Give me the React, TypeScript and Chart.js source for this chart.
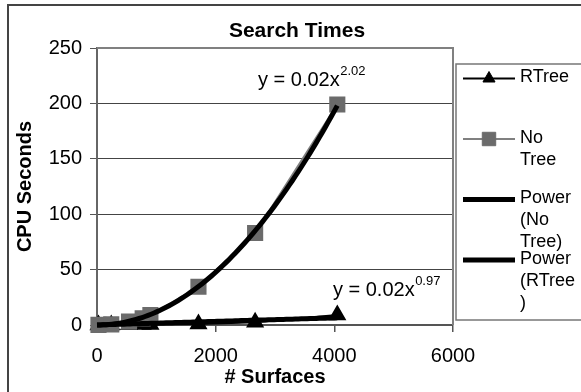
import React, { useEffect, useRef } from "react";
import { Chart, registerables } from "chart.js";
import { drawPoint } from "chart.js/helpers";

Chart.register(...registerables);

// ---- data ----
const surfaces = [25, 240, 540, 770, 900, 1710, 2665, 4050];
const rtreeSeconds = [0.05, 0.1, 0.3, 0.4, 0.5, 1, 2.5, 9];
const noTreeSeconds = [0.1, 0.5, 3, 6, 9, 34.5, 83, 199];

const seriesNames = ["RTree", "No Tree", "Power (No Tree)", "Power (RTree)"];
const legendLines = [["RTree"], ["No", "Tree"], ["Power", "(No", "Tree)"], ["Power", "(RTree", ")"]];

const noTreeExponent = 2.02;
const rtreeExponent = 0.97;
const equationCoef = "0.02";
const equationExponents = ["2.02", "0.97"];
const equationAnchorX = [2713, 3976];
const equationAnchorY = [221, 31];

const xMin = 0;
const xMax = 6000;
const xStep = 2000;
const yMin = 0;
const yMax = 250;
const yStep = 50;

const chartTitle = "Search Times";
const xTitle = "# Surfaces";
const yTitle = "CPU Seconds";

const FONT = '"Liberation Sans", Arial, Helvetica, sans-serif';

// least-squares coefficient for a power trend with the shown exponent
function fitPower(xs: number[], ys: number[], b: number) {
  let num = 0;
  let den = 0;
  for (let i = 0; i < xs.length; i++) {
    const p = Math.pow(xs[i], b);
    num += ys[i] * p;
    den += p * p;
  }
  const a = num / den;
  const last = xs[xs.length - 1];
  const pts: { x: number; y: number }[] = [];
  const n = 80;
  for (let i = 0; i <= n; i++) {
    const x = (last * i) / n;
    pts.push({ x, y: a * Math.pow(x, b) });
  }
  return pts;
}

const decorPlugin = {
  id: "decor",
  beforeDraw(chart: any) {
    const ctx = chart.ctx;
    ctx.save();
    ctx.fillStyle = "#ffffff";
    ctx.fillRect(0, 0, chart.width, chart.height);
    ctx.strokeStyle = "#444444";
    ctx.lineWidth = 2;
    ctx.strokeRect(8, 5, chart.width + 20, chart.height + 20);
    ctx.restore();
  },
  afterDraw(chart: any) {
    const ctx = chart.ctx;
    const area = chart.chartArea;
    const xs = chart.scales.x;
    const ys = chart.scales.y;
    ctx.save();

    // plot area top / right border
    ctx.strokeStyle = "#808080";
    ctx.lineWidth = 2;
    ctx.beginPath();
    ctx.moveTo(area.left, area.top);
    ctx.lineTo(area.right, area.top);
    ctx.lineTo(area.right, area.bottom);
    ctx.stroke();

    // title
    ctx.fillStyle = "#000";
    ctx.font = `bold 21px ${FONT}`;
    ctx.textAlign = "center";
    ctx.textBaseline = "middle";
    ctx.fillText(chartTitle, 297, 31);

    // equations
    for (let i = 0; i < equationAnchorX.length; i++) {
      const px = xs.getPixelForValue(equationAnchorX[i]);
      const py = ys.getPixelForValue(equationAnchorY[i]);
      ctx.textAlign = "left";
      ctx.textBaseline = "middle";
      ctx.font = `20px ${FONT}`;
      const main = `y = ${equationCoef}x`;
      ctx.fillText(main, px, py);
      const w = ctx.measureText(main).width;
      ctx.font = `13px ${FONT}`;
      ctx.fillText(equationExponents[i], px + w + 0.5, py - 9);
    }

    // legend
    const lx = 456;
    const ly = 64;
    ctx.strokeStyle = "#777777";
    ctx.lineWidth = 1.5;
    ctx.strokeRect(lx, ly, 200, 320 - ly);

    const order = [0, 1, 2, 3];
    order.forEach((dsIndex, i) => {
      const ds = chart.data.datasets[dsIndex];
      const y = 78.5 + 60.5 * i;
      ctx.strokeStyle = ds.borderColor;
      ctx.lineWidth = ds.borderWidth;
      ctx.beginPath();
      ctx.moveTo(463, y);
      ctx.lineTo(515, y);
      ctx.stroke();
      if (ds.pointRadius > 0) {
        ctx.fillStyle = ds.pointBackgroundColor;
        ctx.strokeStyle = ds.pointBorderColor;
        ctx.lineWidth = 1;
        drawPoint(ctx, { pointStyle: ds.pointStyle, radius: ds.legendRadius, borderWidth: 1, rotation: 0 }, 489, y);
      }
      ctx.fillStyle = "#000";
      ctx.font = `18px ${FONT}`;
      ctx.textAlign = "left";
      ctx.textBaseline = "middle";
      legendLines[dsIndex].forEach((t, j) => {
        ctx.fillText(t, 520, y - 1 + j * 22);
      });
    });

    ctx.restore();
  },
};

export default function App() {
  const ref = useRef<HTMLCanvasElement | null>(null);

  useEffect(() => {
    if (!ref.current) return;
    const rtreePts = surfaces.map((x, i) => ({ x, y: rtreeSeconds[i] }));
    const noTreePts = surfaces.map((x, i) => ({ x, y: noTreeSeconds[i] }));
    const noTreeTrend = fitPower(surfaces, noTreeSeconds, noTreeExponent);
    const rtreeTrend = fitPower(surfaces, rtreeSeconds, rtreeExponent);

    const chart = new Chart(ref.current, {
      type: "scatter",
      data: {
        datasets: [
          {
            label: seriesNames[0],
            data: rtreePts,
            showLine: true,
            clip: false,
            borderColor: "#000000",
            borderWidth: 2,
            pointStyle: "triangle",
            pointRadius: 8.5,
            legendRadius: 7,
            pointBackgroundColor: "#000000",
            pointBorderColor: "#000000",
            order: 3,
          } as any,
          {
            label: seriesNames[1],
            data: noTreePts,
            showLine: true,
            clip: false,
            borderColor: "#808080",
            borderWidth: 2,
            pointStyle: "rect",
            pointRadius: 10,
            legendRadius: 9.5,
            pointBackgroundColor: "#6b6b6b",
            pointBorderColor: "#6b6b6b",
            order: 2,
          } as any,
          {
            label: seriesNames[2],
            data: noTreeTrend,
            showLine: true,
            clip: false,
            borderColor: "#000000",
            borderWidth: 5,
            pointRadius: 0,
            order: 0,
          } as any,
          {
            label: seriesNames[3],
            data: rtreeTrend,
            showLine: true,
            clip: false,
            borderColor: "#000000",
            borderWidth: 5,
            pointRadius: 0,
            order: 1,
          } as any,
        ],
      },
      options: {
        animation: false,
        responsive: false,
        devicePixelRatio: 1,
        layout: { padding: { left: 0, top: 48, right: 128, bottom: 0 } },
        plugins: {
          legend: { display: false },
          title: { display: false },
          tooltip: { enabled: false },
        },
        scales: {
          x: {
            type: "linear",
            min: xMin,
            max: xMax,
            afterFit: (s: any) => {
              s.height = 67;
            },
            ticks: {
              stepSize: xStep,
              color: "#000",
              font: { family: FONT, size: 20 },
              padding: 12.5,
              maxRotation: 0,
              callback: (v: any) => String(v),
            },
            grid: {
              drawOnChartArea: false,
              drawTicks: true,
              tickLength: 7,
              tickColor: "#555555",
              lineWidth: 1.5,
            },
            border: { color: "#555555", width: 2 },
            title: {
              display: true,
              text: xTitle,
              color: "#000",
              font: { family: FONT, size: 20, weight: "bold" },
              padding: { top: 0, bottom: 3 },
            },
          },
          y: {
            type: "linear",
            min: yMin,
            max: yMax,
            afterFit: (s: any) => {
              s.width = 97;
            },
            ticks: {
              stepSize: yStep,
              color: "#000",
              font: { family: FONT, size: 20 },
              padding: 8,
              callback: (v: any) => String(v),
            },
            grid: {
              color: "#444444",
              lineWidth: 1,
              tickLength: 7,
              tickColor: "#555555",
            },
            border: { color: "#666666", width: 2 },
            title: {
              display: true,
              text: yTitle,
              color: "#000",
              font: { family: FONT, size: 20, weight: "bold" },
              padding: { top: 13.5, bottom: 0 },
            },
          },
        },
      } as any,
      plugins: [decorPlugin],
    });
    return () => chart.destroy();
  }, []);

  return (
    <div style={{ position: "fixed", left: 0, top: 0, width: 581, height: 392, background: "#fff" }}>
      <canvas ref={ref} width={581} height={392} style={{ display: "block", width: 581, height: 392 }} />
    </div>
  );
}
